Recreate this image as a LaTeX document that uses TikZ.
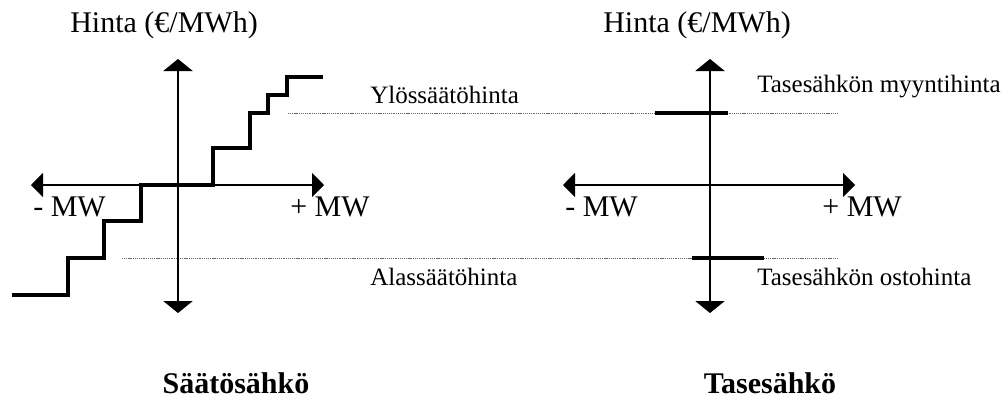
\documentclass[tikz,border=0pt]{standalone}
\usepackage{fontspec}
\setmainfont{Liberation Serif}
\usetikzlibrary{arrows.meta}
\tikzset{
  axis/.style={line width=0.8pt, {Triangle[length=9pt,width=22pt]}-{Triangle[length=9pt,width=22pt]}},
  haxis/.style={line width=0.8pt, {Triangle[length=9pt,width=18pt]}-{Triangle[length=9pt,width=18pt]}},
  stair/.style={line width=2.8pt, line join=miter},
  level/.style={line width=3pt},
  guide/.style={gray!80!black, line width=0.7pt, dash pattern=on 0.8pt off 0.6pt},
  big/.style={font=\fontsize{22.5}{26}\selectfont, inner sep=0pt},
  small/.style={font=\fontsize{18.75}{22}\selectfont, inner sep=0pt},
  title/.style={font=\fontsize{22.5}{26}\selectfont\bfseries, inner sep=0pt}
}
\begin{document}
\begin{tikzpicture}[x=0.75pt,y=-0.75pt]
\useasboundingbox (0,0) rectangle (1005,401);
% guide lines
\coordinate (g1s) at (288,113); \coordinate (g1e) at (838,113);
\coordinate (g2s) at (122,258); \coordinate (g2e) at (838,258);
\draw[guide] (g1s) -- (g1e);
\draw[guide] (g2s) -- (g2e);
% left axes
\coordinate (lt) at (178,59); \coordinate (lb) at (178,313);
\coordinate (ll) at (31,185); \coordinate (lr) at (324,185);
\draw[axis] (lb) -- (lt);
\draw[haxis] (ll) -- (lr);
% staircase
\draw[stair] (12,295) -- (68,295) -- (68,258) -- (104,258) -- (104,221) -- (141,221)
  -- (141,185) -- (213,185) -- (213,148) -- (250,148) -- (250,113) -- (268,113)
  -- (268,95) -- (287,95) -- (287,77) -- (323,77);
% right axes
\coordinate (rt) at (710,59); \coordinate (rb) at (710,313);
\coordinate (rl) at (563,185); \coordinate (rr) at (855,185);
\draw[axis] (rb) -- (rt);
\draw[haxis] (rl) -- (rr);
\coordinate (s1a) at (655,113); \coordinate (s1b) at (728,113);
\coordinate (s2a) at (692,258); \coordinate (s2b) at (764,258);
\draw[level] (s1a) -- (s1b);
\draw[level] (s2a) -- (s2b);
% texts
\node[big] (lh) at (164,25) {Hinta (€/MWh)};
\node[big] (rh) at (697,25) {Hinta (€/MWh)};
\node[big, anchor=west] (lm) at (33,207) {- MW};
\node[big, anchor=east] (lp) at (370,207) {+ MW};
\node[big, anchor=west] (rm) at (565,207) {- MW};
\node[big, anchor=east] (rp) at (902,207) {+ MW};
\node[small, anchor=west] (yl) at (370,95) {Ylössäätöhinta};
\node[small, anchor=west] (al) at (370,277) {Alassäätöhinta};
\node[small, anchor=west] (my) at (757,87) {Tasesähkön myyntihinta};
\node[small, anchor=west] (os) at (757,277) {Tasesähkön ostohinta};
\node[title] (t1) at (236,383) {Säätösähkö};
\node[title] (t2) at (770,383) {Tasesähkö};
\end{tikzpicture}
\end{document}
